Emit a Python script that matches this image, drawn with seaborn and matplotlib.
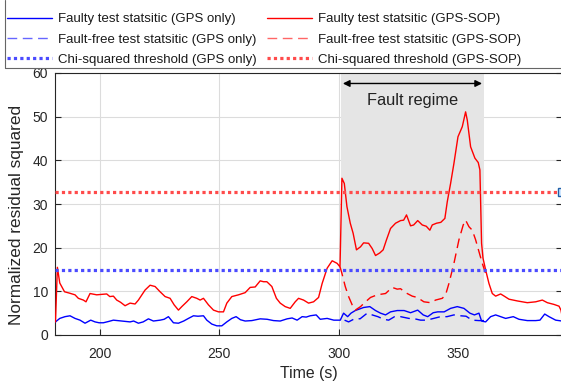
import numpy as np
import pandas as pd
import matplotlib
matplotlib.use("Agg")
import matplotlib.pyplot as plt
from matplotlib.lines import Line2D
from matplotlib.patches import Rectangle
import seaborn as sns

# ---------------- data ----------------
t_sop = [181.2, 182.0, 183.0, 185.0, 187.0, 189.4, 190.8, 192.9, 194.0, 195.7, 198.5, 200.5, 202.7,
         204.0, 205.5, 206.9, 208.5, 210.4, 212.5, 214.6, 216.0, 218.8, 220.9, 223.0, 225.1, 227.2,
         229.3, 231.0, 232.8, 234.2, 236.3, 238.4, 240.5, 241.9, 243.3, 245.4, 247.5, 249.6, 251.7,
         253.1, 255.2, 258.0, 260.8, 262.9, 265.0, 267.1, 268.5, 269.9, 272.0, 273.9, 275.5, 277.6,
         279.7, 281.8, 283.2, 285.3, 287.4, 289.5, 291.6, 293.1, 295.2, 297.3, 299.4, 300.6, 301.4,
         302.4, 303.5, 304.9, 306.1, 307.5, 309.2, 310.5, 312.6, 314.1, 315.5, 317.3, 318.7, 320.1,
         321.8, 323.9, 326.0, 327.3, 328.5, 330.2, 331.5, 333.2, 335.1, 336.8, 338.3, 339.3, 341.1,
         342.9, 344.6, 345.6, 347.0, 348.4, 350.1, 351.9, 353.3, 354.0, 355.4, 357.2, 358.6, 359.3,
         360.0, 360.6, 361.7, 363.1, 364.5, 365.9, 368.0, 369.5, 371.5, 375.0, 379.2, 382.7, 385.5,
         387.6, 390.4, 392.5, 393.3, 393.7]
faulty_sop = [3.0, 15.5, 11.9, 9.9, 9.6, 9.2, 8.4, 8.0, 7.6, 9.5, 9.2, 9.3, 9.4,
              8.8, 8.9, 8.0, 7.5, 6.7, 7.3, 7.1, 8.0, 10.3, 11.4, 11.1, 9.9, 8.8,
              8.4, 6.9, 5.7, 6.5, 7.6, 8.8, 8.4, 8.0, 8.4, 6.9, 5.7, 5.3, 5.3,
              7.3, 8.8, 9.2, 9.7, 10.9, 11.0, 12.4, 12.2, 12.2, 11.1, 8.4, 7.3, 6.5,
              6.1, 7.6, 8.4, 8.0, 7.3, 7.6, 8.6, 11.8, 15.3, 17.0, 16.4, 15.6, 35.9,
              34.7, 29.4, 25.6, 23.3, 19.5, 20.2, 21.1, 21.0, 19.8, 18.2, 18.8, 19.5, 21.8,
              24.4, 25.6, 26.2, 26.3, 27.5, 25.0, 25.2, 26.2, 25.2, 24.9, 24.0, 25.2, 25.6,
              25.8, 26.7, 30.5, 34.7, 39.3, 45.4, 47.7, 51.1, 49.2, 43.1, 40.5, 39.5, 37.8,
              21.0, 17.6, 14.9, 11.8, 9.5, 8.9, 9.4, 8.9, 8.2, 7.8, 7.4, 7.6, 8.0,
              7.4, 7.0, 6.6, 5.7, 4.6]

t_sop_ff = [300.6, 301.4, 302.8, 304.2, 305.7, 307.0, 309.2, 311.3, 313.4, 316.2, 319.7, 322.5,
            324.6, 326.0, 328.1, 330.9, 333.0, 335.8, 338.6, 340.7, 343.5, 344.9, 346.3, 348.4,
            350.5, 352.3, 353.3, 354.7, 356.1, 357.5, 358.9, 360.3, 361.7]
faultfree_sop = [15.6, 14.1, 11.1, 8.8, 6.9, 5.7, 6.5, 7.6, 8.6, 9.2, 9.5, 10.9,
                 10.5, 10.6, 9.7, 8.9, 8.6, 7.6, 7.4, 8.0, 8.4, 9.2, 11.8, 16.4,
                 21.8, 25.2, 26.3, 24.8, 24.0, 21.8, 19.1, 16.4, 14.1]

t_gps = [181.2, 183.0, 185.2, 187.3, 189.4, 191.5, 193.6, 196.0, 197.8, 199.5, 201.3, 203.5, 205.5,
         209.0, 212.5, 214.0, 216.0, 218.0, 220.2, 222.3, 225.1, 226.8, 228.6, 230.7, 232.8, 235.0,
         237.0, 239.1, 241.0, 243.3, 244.7, 246.8, 248.9, 251.0, 253.1, 255.2, 257.0, 258.8, 260.8,
         263.6, 267.1, 270.0, 272.7, 275.5, 278.4, 280.5, 282.6, 284.7, 286.4, 288.1, 290.6, 292.3,
         295.2, 298.0, 300.7, 302.1, 303.8, 305.2, 307.0, 310.5, 313.1, 315.5, 317.6, 319.7, 321.8,
         324.6, 327.5, 330.2, 333.2, 335.5, 337.4, 339.7, 341.6, 344.3, 347.0, 349.8, 352.6, 355.1,
         357.0, 358.9, 360.0, 361.7, 363.8, 365.9, 368.0, 370.1, 373.3, 375.7, 379.2, 382.7, 384.5,
         386.5, 388.3, 391.1, 393.7]
faulty_gps = [3.0, 3.8, 4.2, 4.4, 3.8, 3.4, 2.7, 3.4, 3.0, 2.8, 2.8, 3.1, 3.4,
              3.2, 3.0, 3.2, 2.7, 3.0, 3.7, 3.2, 3.4, 3.6, 4.2, 2.8, 2.7, 3.2,
              3.8, 4.4, 4.3, 4.4, 3.4, 2.5, 2.1, 2.1, 3.0, 3.8, 4.2, 3.5, 3.2,
              3.3, 3.7, 3.6, 3.3, 3.2, 3.7, 3.9, 3.4, 4.2, 4.1, 4.4, 4.6, 3.6,
              3.8, 3.4, 3.4, 5.0, 4.2, 5.0, 5.6, 6.3, 6.5, 5.6, 5.0, 4.6, 5.3,
              5.6, 5.6, 5.1, 5.7, 4.6, 4.2, 5.1, 5.3, 5.3, 6.1, 6.5, 6.1, 5.0,
              4.6, 5.0, 3.2, 3.0, 4.2, 4.6, 4.2, 3.8, 4.2, 3.6, 3.3, 3.3, 3.4,
              4.8, 4.2, 3.4, 3.2]

t_gps_ff = [302.5, 304.2, 307.0, 309.0, 312.0, 314.1, 316.5, 318.9, 321.0, 323.5, 326.0, 329.5,
            332.0, 334.4, 337.0, 339.9, 342.8, 345.5, 348.4, 351.2, 353.5, 356.0, 358.9, 361.0]
faultfree_gps = [3.4, 3.0, 3.8, 3.7, 5.0, 4.6, 4.2, 3.6, 3.4, 4.2, 4.2, 3.8,
                 3.7, 3.4, 3.4, 3.8, 4.2, 4.2, 4.6, 4.4, 4.3, 3.4, 3.3, 3.3]

threshold_gps = 14.8
threshold_sop = 32.7
fault_start, fault_end = 301, 361

legend_labels = ["Faulty test statsitic (GPS only)",
                 "Fault-free test statsitic (GPS only)",
                 "Chi-squared threshold (GPS only)",
                 "Faulty test statsitic (GPS-SOP)",
                 "Fault-free test statsitic (GPS-SOP)",
                 "Chi-squared threshold (GPS-SOP)"]

# ---------------- style ----------------
sns.set_style("white")
plt.rcParams['font.family'] = ['Liberation Sans', 'DejaVu Sans']

W, H = 561, 381
fig = plt.figure(figsize=(W / 100, H / 100), dpi=100)
ax = fig.add_axes([55 / W, 1 - 335 / H, (W - 55) / W + 0.002, (335 - 73) / H])

BLUE = "#0000ff"
RED = "#ff0000"
BLUE_DOT = "#4b4bff"
RED_DOT = "#ff4b4b"
dash = (7, 4)
dot = (0, (1, 1))

# shaded fault regime
ax.axvspan(fault_start, fault_end, color="#e5e5e5", zorder=1, lw=0)

df_gps = pd.DataFrame({"t": t_gps, "v": faulty_gps})
df_gps_ff = pd.DataFrame({"t": t_gps_ff, "v": faultfree_gps})
df_sop = pd.DataFrame({"t": t_sop, "v": faulty_sop})
df_sop_ff = pd.DataFrame({"t": t_sop_ff, "v": faultfree_sop})

sns.lineplot(data=df_gps, x="t", y="v", ax=ax, color=BLUE, lw=1.0, sort=False, estimator=None, zorder=3)
sns.lineplot(data=df_gps_ff, x="t", y="v", ax=ax, color=BLUE, lw=1.0, sort=False, estimator=None, zorder=3)
ax.lines[-1].set_dashes(dash)
sns.lineplot(data=df_sop, x="t", y="v", ax=ax, color=RED, lw=1.0, sort=False, estimator=None, zorder=3)
sns.lineplot(data=df_sop_ff, x="t", y="v", ax=ax, color=RED, lw=1.0, sort=False, estimator=None, zorder=3)
ax.lines[-1].set_dashes(dash)

ax.axhline(threshold_gps, color=BLUE_DOT, lw=2.3, ls=dot, zorder=4)
ax.axhline(threshold_sop, color=RED_DOT, lw=2.3, ls=dot, zorder=4)

# annotation
ax.annotate("", xy=(fault_start + 0.8, 57.6), xytext=(fault_end - 0.8, 57.6),
            arrowprops=dict(arrowstyle="<|-|>", color="black", lw=1.0, mutation_scale=10,
                            shrinkA=0, shrinkB=0), zorder=5)
ax.text((fault_start + fault_end) / 2, 53.6, "Fault regime", ha="center", va="center",
        fontsize=11.8, color="#222222", zorder=5)

# axes
ax.set_xlim(181, 393.8)
ax.set_ylim(0, 60)
ax.set_xticks([200, 250, 300, 350])
ax.set_yticks([0, 10, 20, 30, 40, 50, 60])
ax.grid(True, color="#dcdcdc", lw=0.8, zorder=0)
ax.set_axisbelow(True)
ax.tick_params(direction="in", length=4, width=0.8, labelsize=10, colors="#262626",
               right=True, top=False, left=True, bottom=True)
ax.tick_params(axis="x", pad=9)
ax.tick_params(axis="y", pad=5)
for s in ax.spines.values():
    s.set_color("#262626")
    s.set_linewidth(0.8)
ax.set_xlabel("Time (s)", fontsize=11.4, color="#262626", labelpad=3)
ax.set_ylabel("Normalized residual squared", fontsize=12.4, color="#262626")
ax.yaxis.set_label_coords((24 - 55) / 506, (335 - 215) / 262)

# datatip marker at right edge
ax.add_patch(Rectangle((1.0 - 0.008, (threshold_sop - 0.9) / 60), 0.012, 1.8 / 60,
                       transform=ax.transAxes, facecolor="#cfe6ff", edgecolor="#1f5fa8",
                       lw=1.0, clip_on=False, zorder=6))

# legend
handles = [Line2D([], [], color=BLUE, lw=1.0),
           Line2D([], [], color=BLUE, lw=1.0, dashes=dash, alpha=0.6),
           Line2D([], [], color=BLUE_DOT, lw=2.3, ls=dot),
           Line2D([], [], color=RED, lw=1.0),
           Line2D([], [], color=RED, lw=1.0, dashes=dash, alpha=0.6),
           Line2D([], [], color=RED_DOT, lw=2.3, ls=dot)]
leg = fig.legend(handles, legend_labels, ncol=2, loc="upper left",
                 bbox_to_anchor=(3 / W, 1 - 9 / H), frameon=False, fontsize=9.5,
                 handlelength=3.4, handletextpad=0.45, columnspacing=0.8,
                 labelspacing=0.62, borderaxespad=0, borderpad=0.3)
for txt in leg.get_texts():
    txt.set_color("#1a1a1a")

fig.add_artist(Line2D([5 / W, 5 / W], [1 - 68 / H, 1.0], transform=fig.transFigure,
                      color="#666666", lw=0.8))
fig.add_artist(Line2D([5 / W, 1.0], [1 - 68 / H, 1 - 68 / H], transform=fig.transFigure,
                      color="#666666", lw=0.8))

fig.savefig("out.png", dpi=100)
